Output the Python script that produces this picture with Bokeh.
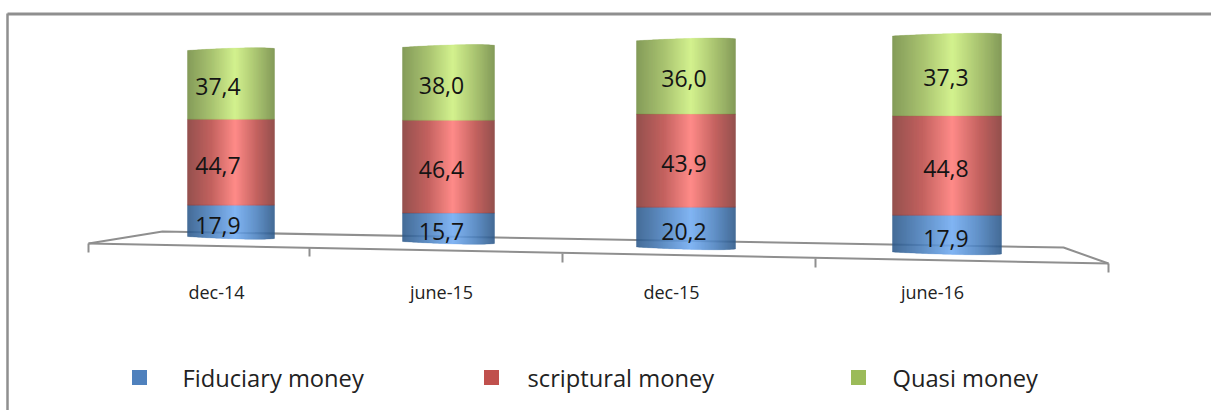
from bokeh.plotting import figure
from bokeh.models import Range1d
from bokeh.core.properties import value
from bokeh.embed import file_html
from bokeh.resources import INLINE

# ---- data ----
categories = ["dec-14", "june-15", "dec-15", "june-16"]
fiduciary = [17.9, 15.7, 20.2, 17.9]
scriptural = [44.7, 46.4, 43.9, 44.8]
quasi = [37.4, 38.0, 36.0, 37.3]
series_names = ["Fiduciary money", "scriptural money", "Quasi money"]

# ---- layout (page pixels) ----
W, H = 1211, 410
X0, Y0 = 0, 0
bar_left = [187, 402, 636, 892]
bar_right = [274, 494, 735, 1001]
bar_base = [239, 244, 249.5, 254.5]
px_per_pct = [1.92, 2.0, 2.12, 2.22]
label_dx = [-13, -7, -2, -1]
cat_x = [216, 441, 671, 932]
CAT_Y = 291
LEG_Y = 377
leg_sq_x = [139, 491, 858]
leg_txt_x = [182, 527, 892]
GRAY = "#8f8f8f"
FONT = "Open Sans"

palettes = [
    ("#2a5788", "#4a80be", "#70aaf2"),
    ("#853835", "#bb4c49", "#ff7b78"),
    ("#738d42", "#9cba5c", "#cdf07f"),
]
legend_colors = ["#4f81bd", "#c0504d", "#9bbb59"]


def hex2rgb(h):
    return tuple(int(h[i:i + 2], 16) for i in (1, 3, 5))


def mix(a, b, t):
    ra, rb = hex2rgb(a), hex2rgb(b)
    return "#%02x%02x%02x" % tuple(round(x + (y - x) * t) for x, y in zip(ra, rb))


def shade(pal, u):
    dark, mid, bright = pal
    if u < 0.28:
        return mix(dark, mid, u / 0.28)
    if u < 0.55:
        return mix(mid, bright, (u - 0.28) / 0.27)
    if u < 0.80:
        return mix(bright, mid, (u - 0.55) / 0.25)
    return mix(mid, dark, (u - 0.80) / 0.20)


p = figure(width=W, height=H, output_backend="svg", toolbar_location=None,
           x_range=Range1d(X0, X0 + W), y_range=Range1d(Y0 + H, Y0),
           min_border=0, outline_line_color=None, background_fill_color="white",
           x_axis_type=None, y_axis_type=None)
p.grid.visible = False

# frame: top and left lines only
p.line([7, X0 + W], [13.5, 13.5], line_color=GRAY, line_width=3)
p.line([7, 7], [13, Y0 + H], line_color=GRAY, line_width=2.5)

# floor of the 3-D plot
floor_x = [[88, 162, 1063, 1108], [88, 1108]]
floor_y = [[243, 231, 247, 263], [243, 263]]
p.multi_line(floor_x, floor_y, line_color=GRAY, line_width=2)
for tx, ty in [(88, 243), (309, 247), (562, 253), (815, 258), (1108, 263)]:
    p.line([tx, tx], [ty, ty + 9], line_color=GRAY, line_width=2)

# each cylinder has its own percent scale (perspective)
for i, cat in enumerate(categories):
    name = f"bar{i}"
    s = px_per_pct[i]
    b = bar_base[i]
    p.extra_y_ranges[name] = Range1d((b - (Y0 + H)) / s, (b - Y0) / s)
    stack = [fiduciary[i], scriptural[i], quasi[i]]
    l, r = bar_left[i], bar_right[i]
    n = r - l
    xl, xr, bot, top, col = [], [], [], [], []
    cum = 0.0
    for k, v in enumerate(stack):
        for j in range(n):
            u = (j + 0.5) / n
            lift = 3.0 * (1 - u) ** 2 + 1.0 * u ** 10
            y0 = cum + (lift / s if k == 0 else 0)
            y1 = cum + v - (lift / s if k == 2 else 0)
            xl.append(l + j)
            xr.append(l + j + 1)
            bot.append(y0)
            top.append(y1)
            col.append(shade(palettes[k], u))
        cx = (l + r) / 2
        p.text([cx], [cum + v / 2], text=[f"{v:.1f}".replace(".", ",")], y_range_name=name,
               x_offset=label_dx[i], y_offset=3,
               text_font=value(FONT), text_font_size="23px", text_color="#141414",
               text_align="center", text_baseline="middle", level="overlay")
        cum += v
    p.quad(left=xl, right=xr, bottom=bot, top=top, fill_color=col, line_color=col,
           line_width=0.3, y_range_name=name)
    p.text([cat_x[i]], [CAT_Y], text=[cat], text_font=value(FONT), text_font_size="18px",
           text_color="#222222", text_align="center", text_baseline="middle")

# legend
for k, nm in enumerate(series_names):
    p.scatter([leg_sq_x[k]], [LEG_Y], marker="square", size=15, fill_color=legend_colors[k],
              line_color=None)
    p.text([leg_txt_x[k]], [LEG_Y], text=[nm], text_font=value(FONT), text_font_size="23.7px",
           text_color="#222222", text_align="left", text_baseline="middle")

open("out.html", "w").write(file_html(p, INLINE))
